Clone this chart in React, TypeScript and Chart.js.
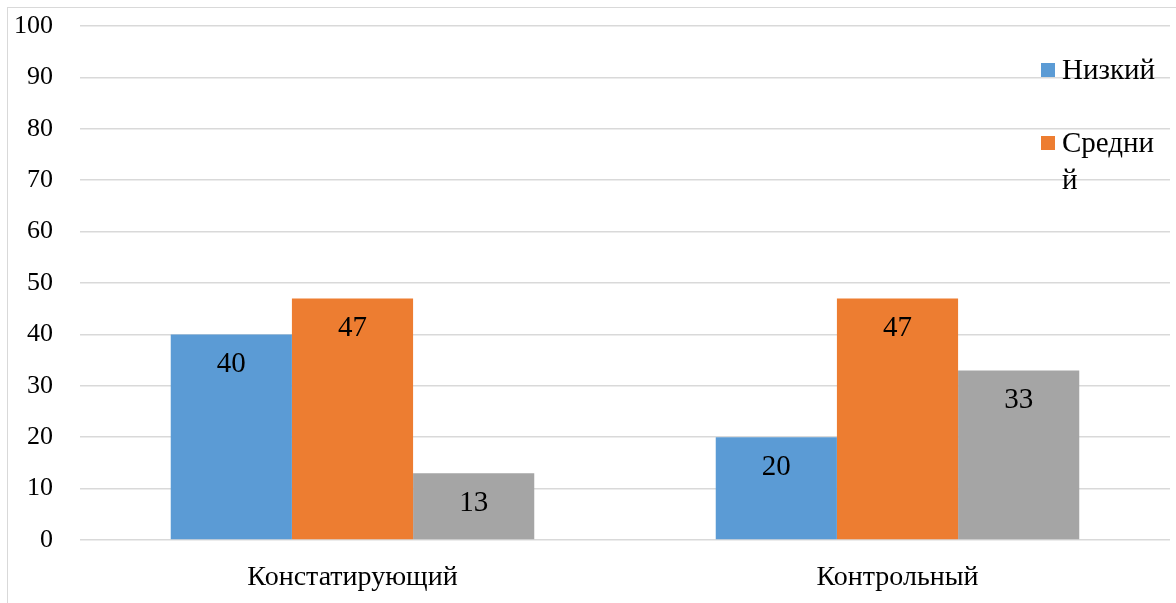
import React, { useEffect, useRef } from "react";
import { Chart, registerables } from "chart.js";

Chart.register(...registerables);

const categories = ["Констатирующий", "Контрольный"];
const seriesNames = ["Низкий", "Средний", "Высокий"];
const lowValues = [40, 20];
const midValues = [47, 47];
const highValues = [13, 33];
const seriesColors = ["#5B9BD5", "#ED7D31", "#A5A5A5"];
const legendShown = 2;

const FONT = "'Liberation Serif', 'Times New Roman', serif";

const valueLabels = {
  id: "valueLabels",
  afterDatasetsDraw(chart: any) {
    const ctx = chart.ctx;
    ctx.save();
    ctx.font = `29px ${FONT}`;
    ctx.fillStyle = "#000";
    ctx.textAlign = "center";
    ctx.textBaseline = "middle";
    chart.data.datasets.forEach((ds: any, i: number) => {
      const meta = chart.getDatasetMeta(i);
      meta.data.forEach((bar: any, j: number) => {
        ctx.fillText(String(ds.data[j]), bar.x, bar.y + 30);
      });
    });
    ctx.restore();
  },
};

const wrapLegend = {
  id: "wrapLegend",
  afterDraw(chart: any) {
    const ctx = chart.ctx;
    ctx.save();
    ctx.font = `29px ${FONT}`;
    ctx.textBaseline = "middle";
    ctx.textAlign = "left";
    const boxX = 1041;
    const textX = 1062;
    const maxW = 100;
    const startY = 71;
    const step = 73;
    const lineH = 37;
    chart.data.datasets.slice(0, legendShown).forEach((ds: any, i: number) => {
      const cy = startY + i * step;
      ctx.fillStyle = ds.backgroundColor;
      ctx.fillRect(boxX, cy - 8, 14, 14);
      const lines: string[] = [];
      let cur = "";
      for (const ch of ds.label) {
        if (ctx.measureText(cur + ch).width > maxW && cur) {
          lines.push(cur);
          cur = ch;
        } else cur += ch;
      }
      if (cur) lines.push(cur);
      ctx.fillStyle = "#000";
      lines.forEach((ln, k) => ctx.fillText(ln, textX, cy + k * lineH));
    });
    ctx.restore();
  },
};

export default function App() {
  const ref = useRef<HTMLCanvasElement>(null);
  useEffect(() => {
    document.body.style.margin = "0";
    document.body.style.overflow = "hidden";
    const chart = new Chart(ref.current!, {
      type: "bar",
      data: {
        labels: categories,
        datasets: [lowValues, midValues, highValues].map((d, i) => ({
          label: seriesNames[i],
          data: d,
          backgroundColor: seriesColors[i],
          borderWidth: 0,
          categoryPercentage: 0.667,
          barPercentage: 1,
        })),
      },
      options: {
        animation: false,
        responsive: false,
        maintainAspectRatio: false,
        layout: { padding: { top: 26, right: 6, left: 0, bottom: 0 } },
        plugins: { legend: { display: false }, tooltip: { enabled: false } },
        scales: {
          x: {
            grid: { display: false },
            border: { display: false },
            ticks: { color: "#000", font: { family: FONT, size: 28 }, padding: 13 },
            afterFit(s: any) {
              s.height = 63;
            },
          },
          y: {
            min: 0,
            max: 100,
            ticks: { stepSize: 10, color: "#000", font: { family: FONT, size: 26 }, padding: 27 },
            grid: { color: "#d9d9d9", lineWidth: 1.5, drawTicks: false },
            border: { display: false },
            afterFit(s: any) {
              s.width = 80;
              s.paddingTop = 0;
              s.paddingBottom = 0;
            },
          },
        },
      },
      plugins: [valueLabels, wrapLegend],
    });
    return () => chart.destroy();
  }, []);
  return (
    <div style={{ position: "relative", width: 1176, height: 603, overflow: "hidden" }}>
      <div
        style={{
          position: "absolute",
          left: 7,
          top: 7,
          width: 1200,
          height: 700,
          borderLeft: "1.5px solid #d9d9d9",
          borderTop: "1.5px solid #d9d9d9",
        }}
      />
      <canvas ref={ref} width={1176} height={603} style={{ position: "absolute", left: 0, top: 0 }} />
    </div>
  );
}
